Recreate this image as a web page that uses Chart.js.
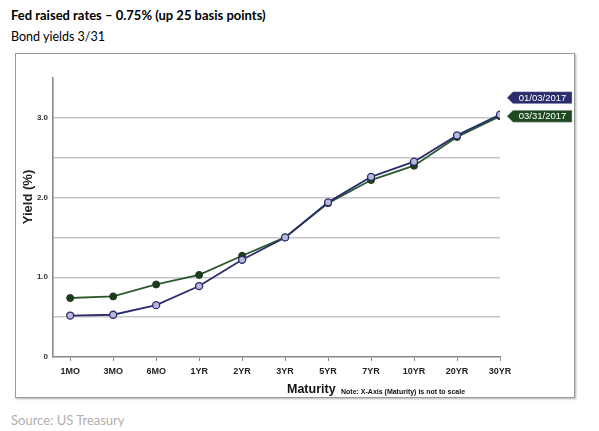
<!DOCTYPE html>
<html><head><meta charset="utf-8">
<script src="https://cdn.jsdelivr.net/npm/chart.js@4/dist/chart.umd.min.js"></script>
<style>
body{margin:0;background:#fff;width:599px;height:431px;position:relative;overflow:hidden;font-family:Lato,"Liberation Sans",sans-serif}
#t{position:absolute;left:11px;top:7px;font-weight:bold;font-size:13px;color:#000;white-space:nowrap}
#s{position:absolute;left:11px;top:29px;font-size:12.5px;color:#000;white-space:nowrap}
#box{position:absolute;left:15px;top:53px;width:558px;height:343px;border:1px solid #9a9a9a;box-shadow:1px 1px 2px #b0b0b0}
#c{position:absolute;left:0;top:0}
#src{position:absolute;left:11px;top:412px;font-size:13px;color:#b0b0b0;white-space:nowrap}
</style></head>
<body>
<div id="t">Fed raised rates – 0.75% (up 25 basis points)</div>
<div id="s">Bond yields 3/31</div>
<div id="box"><canvas id="c" width="558" height="343"></canvas></div>
<div id="src">Source: US Treasury</div>
<script>
const maturities = ["1MO","3MO","6MO","1YR","2YR","3YR","5YR","7YR","10YR","20YR","30YR"];
const yields_2017_01_03 = [0.52,0.53,0.65,0.89,1.22,1.50,1.94,2.26,2.45,2.78,3.04];
const yields_2017_03_31 = [0.74,0.76,0.91,1.03,1.27,1.50,1.93,2.22,2.40,2.76,3.02];
const seriesNames = ["01/03/2017","03/31/2017"];
const yTickValues = [0,0.5,1,1.5,2,2.5,3,3.5];

const BLUE = '#2b2c6e', BLUEFILL = '#b9b9d9', GREEN = '#2c5a2c', GREENFILL = '#1d3b1d', GREENLABEL = '#1f4a1f';

const toPts = arr => arr.map((v,i)=>({x:i,y:v}));

const overlay = {
  id:'overlay',
  afterDraw(chart){
    const ctx = chart.ctx;
    ctx.save();
    ctx.fillStyle = '#222';
    ctx.font = 'bold 13px "Liberation Sans", Arial, sans-serif';
    ctx.translate(12, 143);
    ctx.rotate(-Math.PI/2);
    ctx.textAlign = 'center'; ctx.textBaseline = 'middle';
    ctx.fillText('Yield (%)', 0, 0);
    ctx.restore();
    ctx.save();
    ctx.fillStyle = '#111';
    ctx.font = 'bold 12.5px "Liberation Sans", Arial, sans-serif';
    ctx.textAlign = 'left'; ctx.textBaseline = 'middle';
    ctx.fillText('Maturity', 271, 336);
    ctx.font = 'bold 7px "Liberation Sans", Arial, sans-serif';
    ctx.fillText('Note: X-Axis (Maturity) is not to scale', 325, 338);
    const gMeta = chart.getDatasetMeta(0), bMeta = chart.getDatasetMeta(1);
    const gp = gMeta.data[gMeta.data.length-1], bp = bMeta.data[bMeta.data.length-1];
    const drawTag = (tipX, cy, bg, text) => {
      const bx = tipX + 6, w = 59, h = 12;
      ctx.fillStyle = bg;
      ctx.beginPath();
      ctx.moveTo(tipX, cy);
      ctx.lineTo(bx, cy - h/2);
      ctx.lineTo(bx + w, cy - h/2);
      ctx.lineTo(bx + w, cy + h/2);
      ctx.lineTo(bx, cy + h/2);
      ctx.closePath();
      ctx.fill();
      ctx.strokeStyle = 'rgba(200,200,220,0.6)';
      ctx.lineWidth = 0.8;
      ctx.stroke();
      ctx.fillStyle = '#fff';
      ctx.font = '9.5px "Liberation Sans", Arial, sans-serif';
      ctx.textAlign = 'center'; ctx.textBaseline = 'middle';
      ctx.fillText(text, bx + w/2, cy + 0.5);
    };
    drawTag(gp.x + 7, gp.y, GREENLABEL, seriesNames[1]);
    drawTag(bp.x + 7, bp.y - 17, BLUE, seriesNames[0]);
    ctx.restore();
  }
};

new Chart(document.getElementById('c'), {
  type:'line',
  data:{
    datasets:[
      {label:seriesNames[1], order:1, data:toPts(yields_2017_03_31), borderColor:GREEN, backgroundColor:GREENFILL,
       pointBackgroundColor:GREENFILL, pointBorderColor:GREENFILL, borderWidth:1.8, pointRadius:3.5, pointBorderWidth:1, tension:0},
      {label:seriesNames[0], order:0, data:toPts(yields_2017_01_03), borderColor:BLUE, backgroundColor:BLUEFILL,
       pointBackgroundColor:BLUEFILL, pointBorderColor:BLUE, borderWidth:1.8, pointRadius:3.5, pointBorderWidth:1.3, tension:0}
    ]
  },
  options:{
    responsive:false, animation:false, devicePixelRatio:1,
    layout:{padding:{left:0,top:24,right:74,bottom:0}},
    plugins:{legend:{display:false}, tooltip:{enabled:false}},
    scales:{
      x:{type:'linear', min:-0.4, max:10,
         afterBuildTicks(s){ s.ticks = maturities.map((_,i)=>({value:i})); },
         afterFit(s){ s.height = 40; },
         ticks:{callback:(v)=>maturities[v] ?? '', color:'#222', font:{family:'"Liberation Sans", Arial, sans-serif', size:9, weight:'bold'}, padding:5, maxRotation:0, autoSkip:false},
         grid:{drawOnChartArea:false, drawTicks:true, tickLength:4, color:'#888'},
         border:{display:true, color:'#888', width:1.6}
      },
      y:{min:0, max:3.5,
         afterBuildTicks(s){ s.ticks = yTickValues.map(v=>({value:v})); },
         afterFit(s){ s.width = 37; },
         ticks:{callback:(v)=> (v%1===0 && v<=3) ? (v===0?'0':v.toFixed(1)) : '', color:'#333', font:{family:'"Liberation Sans", Arial, sans-serif', size:8, weight:'bold'}, padding:5},
         grid:{drawTicks:false, color:(c)=> (c.tick && (c.tick.value===0 || c.tick.value>3.4)) ? 'rgba(0,0,0,0)' : '#c6c6c6', lineWidth:1.5},
         border:{display:true, color:'#888', width:1.6}
      }
    }
  },
  plugins:[overlay]
});
</script>
</body></html>
